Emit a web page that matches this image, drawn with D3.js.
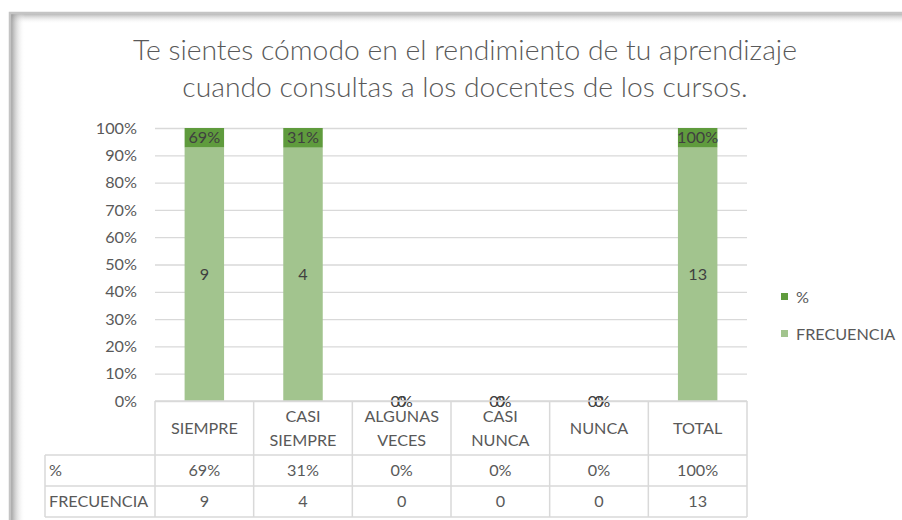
<!DOCTYPE html>
<html>
<head>
<meta charset="utf-8">
<script src="https://cdn.jsdelivr.net/npm/d3@7"></script>
<style>
  body { margin: 0; background: #ffffff; }
  text { font-family: Lato, "Open Sans", sans-serif; }
</style>
</head>
<body>
<script>
// data
var categories = ["SIEMPRE", "CASI SIEMPRE", "ALGUNAS VECES", "CASI NUNCA", "NUNCA", "TOTAL"];
var frecuencia = [9, 4, 0, 0, 0, 13];
var porcentaje = [0.69, 0.31, 0, 0, 0, 1];
var seriesNames = ["%", "FRECUENCIA"];
var titleLines = ["Te sientes cómodo en el rendimiento de tu aprendizaje",
                  "cuando consultas a los docentes de los cursos."];

var W = 902, H = 520;
var plot = {left: 155, right: 747, top: 128, bottom: 401};
var darkGreen = "#5f9b3d", lightGreen = "#a2c48e";
var textGray = "#595959", gridGray = "#d9d9d9";
var fs = "16.2px";

var svg = d3.select("body").append("svg")
    .attr("width", W)
    .attr("height", H);

// frame with inner shadow
var defs = svg.append("defs");
var gTop = defs.append("linearGradient").attr("id", "shTop").attr("x1", 0).attr("y1", 0).attr("x2", 0).attr("y2", 1);
gTop.append("stop").attr("offset", "0%").attr("stop-color", "#9a9a9a").attr("stop-opacity", 0.7);
gTop.append("stop").attr("offset", "100%").attr("stop-color", "#ffffff").attr("stop-opacity", 0);
var gLeft = defs.append("linearGradient").attr("id", "shLeft").attr("x1", 0).attr("y1", 0).attr("x2", 1).attr("y2", 0);
gLeft.append("stop").attr("offset", "0%").attr("stop-color", "#8a8a8a").attr("stop-opacity", 0.8);
gLeft.append("stop").attr("offset", "100%").attr("stop-color", "#ffffff").attr("stop-opacity", 0);

svg.append("rect").attr("x", 11).attr("y", 14).attr("width", W).attr("height", 10).style("fill", "url(#shTop)");
svg.append("rect").attr("x", 11).attr("y", 14).attr("width", 14).attr("height", H).style("fill", "url(#shLeft)");
svg.append("path")
    .attr("d", "M10," + H + "V13H" + W)
    .style("fill", "none")
    .style("stroke", "#c4c4c4")
    .style("stroke-width", 2.5);

// title
svg.append("g").selectAll("text")
    .data(titleLines)
    .enter()
    .append("text")
    .attr("x", 465)
    .attr("y", function(d, i){ return 60 + i * 37; })
    .attr("text-anchor", "middle")
    .style("font-size", "28.3px")
    .style("font-weight", 300)
    .style("fill", textGray)
    .text(function(d){ return d; });

// scales
var x = d3.scaleBand()
    .domain(categories)
    .range([plot.left, plot.right])
    .paddingInner(0.6)
    .paddingOuter(0.3);
var y = d3.scaleLinear()
    .domain([0, 1])
    .range([plot.bottom, plot.top]);

// gridlines + y axis
var yAxis = d3.axisLeft(y)
    .ticks(10, "%")
    .tickSize(-(plot.right - plot.left))
    .tickPadding(18);
var ga = svg.append("g")
    .attr("transform", "translate(" + plot.left + ",0)")
    .call(yAxis);
ga.select(".domain").remove();
ga.selectAll(".tick line").style("stroke", gridGray).style("stroke-width", 1.3);
ga.selectAll(".tick text")
    .style("font-size", fs)
    .style("fill", textGray)
    .style("font-family", "Lato, sans-serif");

// stacked 100% bars
var rows = categories.map(function(c, i){
    return {cat: c, FRECUENCIA: frecuencia[i], "%": porcentaje[i]};
});
var stack = d3.stack()
    .keys(["FRECUENCIA", "%"])
    .offset(d3.stackOffsetExpand);
var series = stack(rows);
var colors = {"FRECUENCIA": lightGreen, "%": darkGreen};
var fmt = {
    "FRECUENCIA": function(v){ return String(v); },
    "%": function(v){ return Math.round(v * 100) + "%"; }
};

series.forEach(function(s){
    var g = svg.append("g");
    g.selectAll("rect")
        .data(s)
        .enter()
        .append("rect")
        .attr("x", function(d){ return x(d.data.cat); })
        .attr("width", x.bandwidth())
        .attr("y", function(d){ return y(d[1]); })
        .attr("height", function(d){ return y(d[0]) - y(d[1]); })
        .style("fill", colors[s.key]);
});
series.forEach(function(s){
    svg.append("g").selectAll("text")
        .data(s)
        .enter()
        .append("text")
        .attr("x", function(d){ return x(d.data.cat) + x.bandwidth() / 2; })
        .attr("y", function(d){ return (y(d[0]) + y(d[1])) / 2; })
        .attr("dy", "0.35em")
        .attr("text-anchor", "middle")
        .style("font-size", fs)
        .style("fill", "#404040")
        .text(function(d){ return fmt[s.key](d.data[s.key]); });
});

// data table under the plot
var step = x.step();
var pad = step * 0.3;
var colLeft = function(c){ return x(c) - pad; };
var headTop = plot.bottom, headBot = 455, row1Bot = 486, row2Bot = 517;
var tableLeft = 45;
var tg = svg.append("g").style("stroke", gridGray).style("stroke-width", 1.5).style("fill", "none");

// horizontal lines
tg.append("line").attr("x1", plot.left).attr("x2", plot.right).attr("y1", headTop).attr("y2", headTop);
[headBot, row1Bot, row2Bot].forEach(function(yy){
    tg.append("line").attr("x1", tableLeft).attr("x2", plot.right).attr("y1", yy).attr("y2", yy);
});
// vertical lines
tg.append("line").attr("x1", tableLeft).attr("x2", tableLeft).attr("y1", headBot).attr("y2", row2Bot);
categories.forEach(function(c){
    tg.append("line").attr("x1", colLeft(c)).attr("x2", colLeft(c)).attr("y1", headTop).attr("y2", row2Bot);
});
tg.append("line").attr("x1", plot.right).attr("x2", plot.right).attr("y1", headTop).attr("y2", row2Bot);

// header labels
categories.forEach(function(c){
    var words = c.split(" ");
    var cx = x(c) + x.bandwidth() / 2;
    var cy = (headTop + headBot) / 2;
    svg.append("g").selectAll("text")
        .data(words)
        .enter()
        .append("text")
        .attr("x", cx)
        .attr("y", function(d, i){ return cy + (i - (words.length - 1) / 2) * 24; })
        .attr("dy", "0.35em")
        .attr("text-anchor", "middle")
        .style("font-size", fs)
        .style("fill", textGray)
        .text(function(d){ return d; });
});

// table body
var bodyRows = [
    {name: "%", vals: porcentaje, f: fmt["%"], top: headBot, bot: row1Bot},
    {name: "FRECUENCIA", vals: frecuencia, f: fmt["FRECUENCIA"], top: row1Bot, bot: row2Bot}
];
bodyRows.forEach(function(r){
    var cy = (r.top + r.bot) / 2;
    svg.append("text")
        .attr("x", tableLeft + 4)
        .attr("y", cy)
        .attr("dy", "0.35em")
        .style("font-size", fs)
        .style("fill", textGray)
        .text(r.name);
    svg.append("g").selectAll("text")
        .data(r.vals)
        .enter()
        .append("text")
        .attr("x", function(d, i){ return x(categories[i]) + x.bandwidth() / 2; })
        .attr("y", cy)
        .attr("dy", "0.35em")
        .attr("text-anchor", "middle")
        .style("font-size", fs)
        .style("fill", textGray)
        .text(function(d){ return r.f(d); });
});

// legend
var legend = svg.append("g").attr("transform", "translate(781,293)");
legend.selectAll("rect")
    .data(seriesNames)
    .enter()
    .append("rect")
    .attr("x", 0)
    .attr("y", function(d, i){ return i * 37; })
    .attr("width", 7)
    .attr("height", 7)
    .style("fill", function(d){ return d === "%" ? darkGreen : lightGreen; });
legend.selectAll("text")
    .data(seriesNames)
    .enter()
    .append("text")
    .attr("x", 15)
    .attr("y", function(d, i){ return i * 37 + 4; })
    .attr("dy", "0.35em")
    .style("font-size", fs)
    .style("fill", textGray)
    .text(function(d){ return d; });
</script>
</body>
</html>
